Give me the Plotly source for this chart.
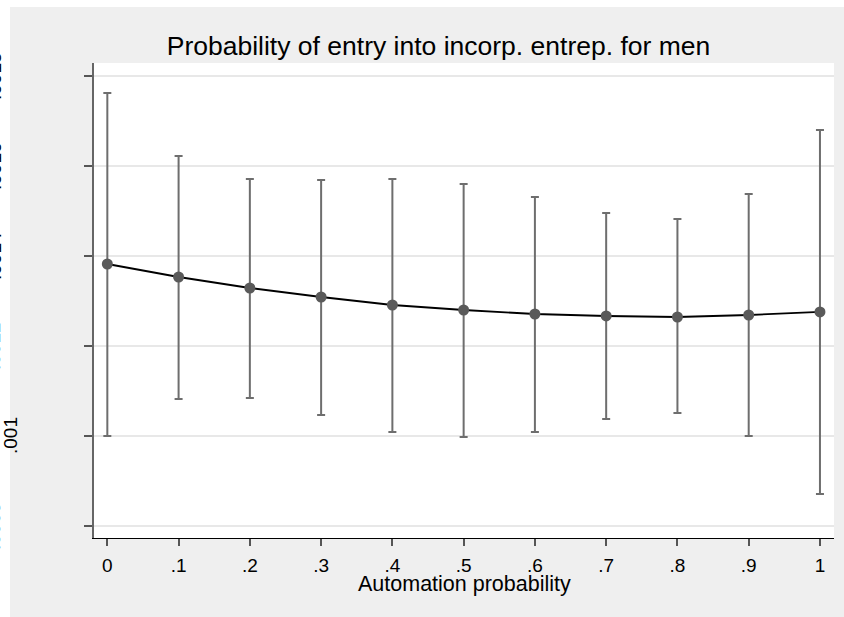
import plotly.graph_objects as go

# Data
x_vals = [0, 0.1, 0.2, 0.3, 0.4, 0.5, 0.6, 0.7, 0.8, 0.9, 1.0]
x_ticktext = ["0", ".1", ".2", ".3", ".4", ".5", ".6", ".7", ".8", ".9", "1"]
margins = [0.0013822, 0.0013533, 0.0013289, 0.0013089, 0.0012911, 0.0012800,
           0.0012711, 0.0012667, 0.0012644, 0.0012689, 0.0012756]
ci_upper = [0.0017622, 0.0016222, 0.0015711, 0.0015689, 0.0015711, 0.0015600,
            0.0015311, 0.0014956, 0.0014822, 0.0015378, 0.0016800]
ci_lower = [0.0010000, 0.0010822, 0.0010844, 0.0010467, 0.0010089, 0.0009978,
            0.0010089, 0.0010378, 0.0010511, 0.0010000, 0.0008711]
y_tickvals = [0.0008, 0.0010, 0.0012, 0.0014, 0.0016, 0.0018]
y_ticktext = [".0008", ".001", ".0012", ".0014", ".0016", ".0018"]

W, H = 844, 617
ML, MR, MT, MB = 94, 10, 63, 79
PW, PH = W - ML - MR, H - MT - MB
FONT = "Liberation Sans, Arial, sans-serif"

def px_x(p):
    return (p - ML) / PW

def px_y(p):
    return (H - MB - p) / PH

err_plus = [u - m for u, m in zip(ci_upper, margins)]
err_minus = [m - l for m, l in zip(margins, ci_lower)]

fig = go.Figure()
fig.add_trace(go.Scatter(
    x=x_vals, y=margins, mode="lines+markers",
    line=dict(color="black", width=1.8),
    marker=dict(color="#5a5a5a", size=11),
    error_y=dict(type="data", symmetric=False, array=err_plus, arrayminus=err_minus,
                 color="#6e6e6e", thickness=2, width=4),
    showlegend=False, hoverinfo="skip",
))

shapes = [
    dict(type="rect", xref="paper", yref="paper", x0=px_x(10), x1=px_x(W + 5),
         y0=px_y(H + 5), y1=px_y(7), fillcolor="#efefef", line=dict(width=0), layer="below"),
    dict(type="rect", xref="paper", yref="paper", x0=0, x1=1, y0=0, y1=1,
         fillcolor="white", line=dict(width=0), layer="below"),
]

annotations = []
for v, t in zip(y_tickvals, y_ticktext):
    cx = 11 if t == ".001" else -6
    annotations.append(dict(
        x=0, xref="paper", xshift=cx - ML, y=v, yref="y", text=t, textangle=-90,
        showarrow=False, xanchor="center", yanchor="middle",
        font=dict(family=FONT, size=19, color="black"),
    ))
annotations.append(dict(
    x=0.5, xref="paper", y=px_y(584), yref="paper", text="Automation probability",
    showarrow=False, xanchor="center", yanchor="middle",
    font=dict(family=FONT, size=21.5, color="black"),
))

fig.update_layout(
    width=W, height=H,
    margin=dict(l=ML, r=MR, t=MT, b=MB, pad=0),
    paper_bgcolor="white", plot_bgcolor="white",
    title=dict(text="Probability of entry into incorp. entrep. for men",
               x=438.5 / W, xref="container", xanchor="center",
               y=1 - 46 / H, yref="container", yanchor="middle",
               font=dict(family=FONT, size=26.5, color="black")),
    shapes=shapes, annotations=annotations,
    xaxis=dict(range=[-0.0187, 1.0197], tickvals=x_vals, ticktext=x_ticktext,
               ticks="outside", ticklen=7, tickwidth=1.5, tickcolor="#555555",
               showline=True, linecolor="black", linewidth=1.2, mirror=False,
               showgrid=False, zeroline=False, ticklabelstandoff=3,
               tickfont=dict(family=FONT, size=19, color="black")),
    yaxis=dict(range=[0.0007733, 0.0018289], tickvals=y_tickvals, showticklabels=False,
               ticks="outside", ticklen=8, tickwidth=1.5, tickcolor="#555555",
               showline=True, linecolor="#666666", linewidth=1.5,
               showgrid=True, gridcolor="#e8e8e8", gridwidth=2, zeroline=False),
)

fig.write_html("out.html", config={"displayModeBar": False},
               post_script="document.body.style.margin='0';document.body.style.overflow='hidden';")
